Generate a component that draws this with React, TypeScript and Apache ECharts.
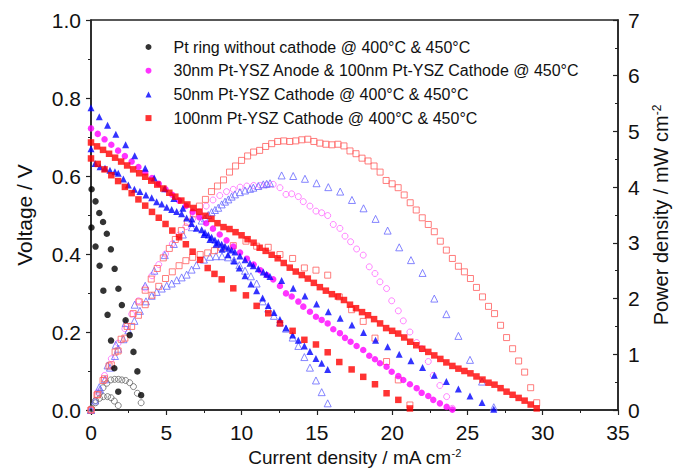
import React, { useEffect, useRef } from "react";
import * as echarts from "echarts";

// ---------- Data ----------
const S_BLACK = "Pt ring without cathode @ 400°C & 450°C";
const S_MAG = "30nm Pt-YSZ Anode & 100nm Pt-YSZ Cathode @ 450°C";
const S_BLUE = "50nm Pt-YSZ Cathode @ 400°C & 450°C";
const S_RED = "100nm Pt-YSZ Cathode @ 400°C & 450°C";
const legendNames = [S_BLACK, S_MAG, S_BLUE, S_RED];

const xTicks = [0, 5, 10, 15, 20, 25, 30, 35];
const vTicks = [0, 0.2, 0.4, 0.6, 0.8, 1.0];
const pTicks = [0, 1, 2, 3, 4, 5, 6, 7];

// Pt ring without cathode (two temperatures)
const blkH_I = [0.04, 0.3, 0.55, 0.8, 1.05, 1.32, 1.57, 1.82, 2.05, 2.3, 2.57, 2.82, 3.08, 3.33];
const blkH_V = [0.566, 0.535, 0.505, 0.482, 0.452, 0.412, 0.362, 0.311, 0.269, 0.23, 0.192, 0.149, 0.099, 0.038];
const blkH_P = [0.03, 0.17, 0.3, 0.4, 0.48, 0.54, 0.55, 0.55, 0.54, 0.53, 0.49, 0.42, 0.3, 0.13];
const blkL_I = [0.03, 0.3, 0.57, 0.82, 1.1, 1.33, 1.55, 1.81];
const blkL_V = [0.468, 0.419, 0.37, 0.306, 0.244, 0.178, 0.107, 0.047];
const blkL_P = [0.02, 0.13, 0.21, 0.24, 0.24, 0.22, 0.16, 0.08];

// 30nm anode & 100nm cathode @ 450°C
const mag_I = [0, 0.45, 0.9, 1.35, 1.8, 2.25, 2.7, 3.15, 3.6, 4.05, 4.5, 4.95, 5.4, 5.85, 6.3, 6.75, 7.2, 7.65, 8.1, 8.55, 9.0, 9.45, 9.9, 10.35, 10.8, 11.25, 11.67, 12.1, 12.55, 12.95, 13.33, 13.77, 14.1, 14.54, 14.94, 15.32, 15.72, 16.09, 16.53, 16.87, 17.24, 17.64, 18.08, 18.48, 18.86, 19.19, 19.63, 19.97, 20.41, 20.74, 21.18, 21.63, 21.96, 22.4, 22.73, 23.17, 23.62, 24.0];
const mag_V = [0.722, 0.708, 0.694, 0.68, 0.665, 0.651, 0.637, 0.623, 0.609, 0.595, 0.58, 0.566, 0.552, 0.537, 0.523, 0.508, 0.494, 0.479, 0.465, 0.45, 0.435, 0.419, 0.404, 0.388, 0.373, 0.358, 0.346, 0.335, 0.318, 0.299, 0.291, 0.278, 0.265, 0.252, 0.239, 0.231, 0.222, 0.207, 0.197, 0.185, 0.175, 0.164, 0.154, 0.139, 0.13, 0.12, 0.111, 0.098, 0.087, 0.077, 0.066, 0.056, 0.044, 0.036, 0.026, 0.017, 0.008, 0.001];
const mag_P = [0, 0.32, 0.62, 0.92, 1.2, 1.46, 1.72, 1.96, 2.19, 2.41, 2.61, 2.8, 2.98, 3.14, 3.29, 3.43, 3.56, 3.66, 3.77, 3.85, 3.92, 3.96, 4.0, 4.02, 4.03, 4.03, 4.04, 4.05, 3.99, 3.87, 3.88, 3.83, 3.74, 3.66, 3.57, 3.54, 3.49, 3.33, 3.26, 3.12, 3.02, 2.89, 2.78, 2.57, 2.45, 2.3, 2.18, 1.96, 1.78, 1.6, 1.4, 1.21, 1.1, 0.87, 0.62, 0.44, 0.24, 0.03];

// 50nm cathode, 450°C
const blueA_I = [0, 0.55, 1.1, 1.65, 2.3, 2.9, 3.6, 4.2, 4.9, 5.5, 6.1, 6.7, 7.35, 7.57, 7.79, 8.01, 8.23, 8.45, 8.68, 8.9, 9.12, 9.34, 9.56, 9.89, 10.23, 10.56, 10.78, 11.11, 11.44, 11.67, 11.89, 12.66, 13.43, 14.21, 14.98, 15.76, 16.55, 17.33, 18.1, 18.9, 19.7, 20.47, 21.25, 22.02, 22.8, 23.6, 24.4, 25.17, 25.97, 26.75];
const blueA_V = [0.775, 0.752, 0.73, 0.707, 0.68, 0.652, 0.62, 0.595, 0.567, 0.542, 0.517, 0.49, 0.462, 0.455, 0.449, 0.443, 0.436, 0.43, 0.425, 0.42, 0.415, 0.41, 0.405, 0.395, 0.385, 0.376, 0.37, 0.362, 0.354, 0.348, 0.342, 0.332, 0.312, 0.292, 0.272, 0.252, 0.235, 0.218, 0.199, 0.179, 0.162, 0.143, 0.126, 0.109, 0.089, 0.073, 0.054, 0.036, 0.019, 0.002];
const blueA_P = [0, 0.41, 0.8, 1.17, 1.56, 1.89, 2.23, 2.5, 2.78, 2.98, 3.15, 3.28, 3.4, 3.44, 3.5, 3.55, 3.59, 3.63, 3.69, 3.74, 3.78, 3.83, 3.87, 3.91, 3.94, 3.97, 3.99, 4.02, 4.05, 4.06, 4.07, 4.21, 4.2, 4.15, 4.07, 4.0, 3.92, 3.77, 3.62, 3.43, 3.22, 2.92, 2.69, 2.46, 2.0, 1.72, 1.33, 0.9, 0.51, 0.05];

// 50nm cathode, 400°C
const blueB_I = [0, 0.27, 0.6, 0.93, 1.26, 1.59, 1.81, 2.15, 2.48, 2.88, 3.25, 3.65, 4.03, 4.36, 4.7, 5.03, 5.36, 5.69, 6.02, 6.35, 6.68, 7.0, 7.5, 7.9, 8.3, 8.7, 9.1, 9.5, 9.85, 10.23, 10.62, 11.0, 11.4, 11.77, 12.15, 12.55, 12.95, 13.39, 13.77, 14.17, 14.54, 14.94, 15.32, 15.72];
const blueB_V = [0.67, 0.632, 0.624, 0.62, 0.615, 0.611, 0.607, 0.592, 0.577, 0.566, 0.56, 0.551, 0.544, 0.534, 0.528, 0.52, 0.514, 0.509, 0.503, 0.492, 0.478, 0.466, 0.45, 0.437, 0.425, 0.412, 0.398, 0.382, 0.364, 0.344, 0.323, 0.306, 0.287, 0.268, 0.25, 0.232, 0.21, 0.192, 0.179, 0.164, 0.15, 0.132, 0.12, 0.104];
const blueB_P = [0, 0.17, 0.37, 0.55, 0.76, 0.97, 1.1, 1.27, 1.43, 1.6, 1.78, 1.95, 2.05, 2.12, 2.18, 2.23, 2.27, 2.33, 2.38, 2.43, 2.52, 2.6, 2.7, 2.75, 2.76, 2.76, 2.74, 2.69, 2.6, 2.5, 2.4, 2.27, 1.95, 1.82, 1.69, 1.57, 1.46, 1.3, 1.15, 0.95, 0.76, 0.53, 0.32, 0.12];

// 100nm cathode, 450°C
const redA_I = [0, 0.4, 0.8, 1.2, 1.6, 2.0, 2.4, 2.8, 3.2, 3.6, 4.0, 4.4, 4.8, 5.2, 5.6, 6.0, 6.4, 6.8, 7.2, 7.6, 8.0, 8.4, 8.8, 9.2, 9.6, 10.0, 10.4, 10.8, 11.2, 11.6, 12.0, 12.4, 12.8, 13.2, 13.6, 14.0, 14.4, 14.8, 15.2, 15.6, 16.0, 16.4, 16.8, 17.2, 17.6, 18.0, 18.4, 18.8, 19.2, 19.6, 20.0, 20.4, 20.8, 21.2, 21.6, 22.0, 22.4, 22.8, 23.2, 23.6, 24.0, 24.4, 24.8, 25.2, 25.6, 26.0, 26.4, 26.8, 27.2, 27.6, 28.0, 28.4, 28.8, 29.2, 29.6];
const redA_V = [0.686, 0.676, 0.667, 0.657, 0.647, 0.637, 0.627, 0.617, 0.607, 0.598, 0.588, 0.578, 0.568, 0.557, 0.547, 0.537, 0.527, 0.518, 0.508, 0.498, 0.49, 0.479, 0.469, 0.464, 0.456, 0.448, 0.438, 0.429, 0.416, 0.408, 0.398, 0.389, 0.377, 0.365, 0.355, 0.346, 0.337, 0.326, 0.315, 0.306, 0.297, 0.291, 0.282, 0.27, 0.261, 0.251, 0.243, 0.233, 0.222, 0.21, 0.203, 0.196, 0.186, 0.175, 0.166, 0.157, 0.149, 0.14, 0.131, 0.122, 0.113, 0.106, 0.1, 0.094, 0.086, 0.078, 0.07, 0.065, 0.056, 0.047, 0.039, 0.031, 0.024, 0.014, 0.004];
const redA_P = [0, 0.27, 0.53, 0.79, 1.04, 1.27, 1.5, 1.73, 1.94, 2.15, 2.35, 2.54, 2.73, 2.9, 3.06, 3.22, 3.37, 3.52, 3.66, 3.78, 3.92, 4.02, 4.13, 4.27, 4.38, 4.48, 4.56, 4.63, 4.66, 4.73, 4.78, 4.82, 4.83, 4.82, 4.83, 4.85, 4.86, 4.82, 4.79, 4.77, 4.76, 4.77, 4.74, 4.65, 4.6, 4.52, 4.47, 4.38, 4.27, 4.12, 4.06, 3.99, 3.86, 3.72, 3.59, 3.45, 3.33, 3.2, 3.03, 2.87, 2.72, 2.58, 2.48, 2.36, 2.2, 2.03, 1.86, 1.73, 1.52, 1.3, 1.1, 0.88, 0.68, 0.4, 0.13];

// 100nm cathode, 400°C
const redB_I = [0, 0.45, 0.9, 1.35, 1.8, 2.25, 2.7, 3.15, 3.6, 4.05, 4.5, 4.95, 5.4, 5.85, 6.3, 6.75, 7.25, 7.75, 8.2, 8.68, 9.45, 10.29, 11.0, 11.77, 12.55, 13.39, 14.17, 14.94, 15.72, 16.49, 17.31, 18.08, 18.86, 19.63, 20.41, 21.18];
const redB_V = [0.645, 0.631, 0.617, 0.602, 0.587, 0.572, 0.556, 0.54, 0.524, 0.508, 0.493, 0.477, 0.46, 0.443, 0.425, 0.406, 0.385, 0.364, 0.349, 0.335, 0.312, 0.294, 0.267, 0.248, 0.222, 0.203, 0.18, 0.168, 0.148, 0.123, 0.104, 0.085, 0.066, 0.043, 0.026, 0.004];
const redB_P = [0, 0.28, 0.56, 0.81, 1.06, 1.29, 1.5, 1.7, 1.89, 2.06, 2.22, 2.36, 2.48, 2.59, 2.68, 2.74, 2.79, 2.82, 2.86, 2.91, 2.95, 3.03, 2.94, 2.92, 2.79, 2.72, 2.55, 2.51, 2.42, 2.03, 1.8, 1.59, 1.29, 0.87, 0.54, 0.09];

// ---------- Chart ----------
const FONT = "'Liberation Sans', Arial, Helvetica, sans-serif";
const TXT = "#111";

const zip = (xs: number[], ys: number[]) => xs.map((x, i) => [x, ys[i]]);

function filled(name: string, symbol: string, size: number, color: string, xs: number[], ys: number[]) {
  return {
    type: "scatter",
    name,
    yAxisIndex: 0,
    symbol,
    symbolSize: size,
    symbolKeepAspect: true,
    itemStyle: { color },
    data: zip(xs, ys),
    z: 3,
  };
}

function open(name: string, symbol: string, size: number, color: string, xs: number[], ys: number[]) {
  return {
    type: "scatter",
    name,
    yAxisIndex: 1,
    symbol,
    symbolSize: size,
    itemStyle: { color: "rgba(255,255,255,0)", borderColor: color, borderWidth: 1 },
    data: zip(xs, ys),
    z: 2,
  };
}

export default function App() {
  const ref = useRef<HTMLDivElement>(null);

  useEffect(() => {
    if (!ref.current) return;
    const chart = echarts.init(ref.current, undefined, { renderer: "svg" });

    const axisLine = { show: true, lineStyle: { color: "#222", width: 1.5 } };
    const labelStyle = { fontSize: 21, color: TXT, fontFamily: FONT };
    const nameStyle = {
      fontSize: 20,
      color: TXT,
      fontFamily: FONT,
      rich: { sup: { fontSize: 12, fontFamily: FONT, color: TXT, verticalAlign: "top" } },
    };

    chart.setOption({
      animation: false,
      backgroundColor: "#fff",
      textStyle: { fontFamily: FONT },
      grid: {
        left: 91,
        right: 56,
        top: 20,
        bottom: 58,
        outerBoundsMode: "none",
        containLabel: false,
        show: true,
        borderColor: "#222",
        borderWidth: 1.5,
        backgroundColor: "transparent",
      },
      legend: {
        data: legendNames,
        orient: "vertical",
        left: 140.5,
        top: 34,
        itemWidth: 6,
        itemHeight: 6,
        itemGap: 7.7,
        selectedMode: false,
        textStyle: {
          fontSize: 16,
          lineHeight: 16,
          color: TXT,
          fontFamily: FONT,
          padding: [0, 0, 0, 17],
        },
      },
      xAxis: {
        type: "value",
        min: xTicks[0],
        max: xTicks[xTicks.length - 1],
        interval: 5,
        name: "Current density / mA cm{sup|-2}",
        nameLocation: "middle",
        nameGap: 30,
        nameTextStyle: {
          ...nameStyle,
          fontSize: 19,
          lineHeight: 20,
          rich: { sup: { fontSize: 11, fontFamily: FONT, color: TXT, verticalAlign: "top", lineHeight: 20 } },
        },
        axisLine,
        axisTick: { show: true, length: 5, lineStyle: { color: "#222", width: 1.2 } },
        minorTick: { show: true, splitNumber: 2, length: 3, lineStyle: { color: "#222", width: 1 } },
        axisLabel: { ...labelStyle, lineHeight: 20, margin: 12, formatter: (v: number) => String(v) },
        splitLine: { show: false },
      },
      yAxis: [
        {
          type: "value",
          position: "left",
          min: vTicks[0],
          max: vTicks[vTicks.length - 1],
          interval: 0.2,
          name: "Voltage / V",
          nameLocation: "middle",
          nameRotate: 90,
          nameGap: 56,
          nameTextStyle: { ...nameStyle, fontSize: 21 },
          axisLine,
          axisTick: { show: true, length: 5, lineStyle: { color: "#222", width: 1.2 } },
          minorTick: { show: true, splitNumber: 2, length: 3, lineStyle: { color: "#222", width: 1 } },
          axisLabel: { ...labelStyle, margin: 10, formatter: (v: number) => v.toFixed(1) },
          splitLine: { show: false },
        },
        {
          type: "value",
          position: "right",
          min: pTicks[0],
          max: pTicks[pTicks.length - 1],
          interval: 1,
          name: "Power density / mW cm{sup|-2}",
          nameLocation: "middle",
          nameRotate: 90,
          nameGap: 32,
          nameTextStyle: nameStyle,
          axisLine,
          axisTick: { show: true, inside: true, length: 5, lineStyle: { color: "#222", width: 1.2 } },
          minorTick: { show: true, splitNumber: 2, length: 3, lineStyle: { color: "#222", width: 1 } },
          axisLabel: { ...labelStyle, margin: 10, formatter: (v: number) => String(v) },
          splitLine: { show: false },
        },
      ],
      series: [
        open("P black 450", "circle", 6, "#666", blkH_I, blkH_P),
        open("P black 400", "circle", 6, "#666", blkL_I, blkL_P),
        open("P magenta", "circle", 6, "#ff66ff", mag_I, mag_P),
        open("P blue 450", "triangle", 7, "#6666ff", blueA_I, blueA_P),
        open("P blue 400", "triangle", 7, "#6666ff", blueB_I, blueB_P),
        open("P red 450", "rect", 6, "#ff5c5c", redA_I, redA_P),
        open("P red 400", "rect", 6, "#ff5c5c", redB_I, redB_P),
        filled(S_BLACK, "circle", 6.5, "#000", blkH_I, blkH_V),
        filled(S_BLACK, "circle", 6.5, "#000", blkL_I, blkL_V),
        filled(S_MAG, "circle", 6.5, "#ff00ff", mag_I, mag_V),
        filled(S_BLUE, "triangle", 7, "#0000ff", blueA_I, blueA_V),
        filled(S_BLUE, "triangle", 7, "#0000ff", blueB_I, blueB_V),
        filled(S_RED, "rect", 6.5, "#ff0000", redA_I, redA_V),
        filled(S_RED, "rect", 6.5, "#ff0000", redB_I, redB_V),
      ],
    });

    return () => chart.dispose();
  }, []);

  return (
    <div
      ref={ref}
      style={{ position: "absolute", left: 0, top: 0, width: 674, height: 468, background: "#fff" }}
    />
  );
}
